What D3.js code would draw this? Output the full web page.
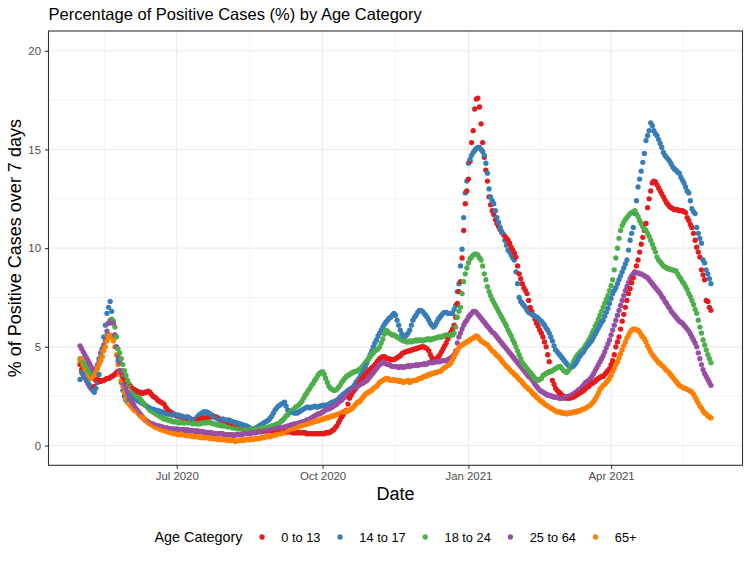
<!DOCTYPE html>
<html>
<head>
<meta charset="utf-8">
<script src="https://cdn.jsdelivr.net/npm/d3@7"></script>
<style>
  body { margin: 0; background: #fff; }
  text { font-family: "Liberation Sans", Arial, Helvetica, sans-serif; }
</style>
</head>
<body>
<div id="chart"></div>
<script>
// daily values, first day 2020-05-01
var startDate = "2020-05-01";
var categories = ["0 to 13", "14 to 17", "18 to 24", "25 to 64", "65+"];
var colors = ["#E41A1C", "#377EB8", "#4DAF4A", "#984EA3", "#FF7F00"];

var pos0to13 = [
  4.1,3.85,3.6,3.45,3.3,3.15,3.0,2.9,2.85,3.0,
  3.3,3.35,3.3,3.25,3.3,3.3,3.35,3.4,3.4,3.45,
  3.5,3.55,3.6,3.7,3.75,3.8,3.7,3.5,3.4,3.3,
  3.2,3.1,3.0,2.9,2.85,2.8,2.75,2.7,2.7,2.65,
  2.65,2.7,2.7,2.75,2.7,2.6,2.5,2.45,2.4,2.3,
  2.25,2.2,2.15,2.1,1.95,1.85,1.75,1.7,1.65,1.6,
  1.55,1.5,1.5,1.45,1.45,1.4,1.4,1.35,1.35,1.3,
  1.3,1.3,1.3,1.35,1.35,1.35,1.35,1.4,1.4,1.4,
  1.4,1.45,1.45,1.5,1.45,1.45,1.45,1.4,1.35,1.3,
  1.3,1.25,1.2,1.2,1.15,1.1,1.05,1.0,1.0,0.95,
  0.9,0.9,0.85,0.85,0.85,0.8,0.8,0.8,0.8,0.8,
  0.8,0.8,0.8,0.8,0.8,0.8,0.75,0.75,0.75,0.75,
  0.75,0.75,0.75,0.7,0.7,0.7,0.7,0.7,0.7,0.7,
  0.7,0.7,0.7,0.7,0.65,0.65,0.65,0.65,0.65,0.65,
  0.65,0.65,0.65,0.6,0.6,0.6,0.6,0.6,0.6,0.6,
  0.6,0.6,0.6,0.6,0.6,0.65,0.65,0.65,0.7,0.75,
  0.8,0.9,1.0,1.15,1.3,1.45,1.55,1.7,1.8,2.1,
  2.4,2.55,2.7,2.8,2.9,3.05,3.2,3.3,3.4,3.5,
  3.6,3.7,3.8,3.85,3.95,4.0,4.1,4.2,4.3,4.4,
  4.45,4.5,4.5,4.45,4.4,4.4,4.35,4.35,4.35,4.4,
  4.45,4.5,4.55,4.65,4.7,4.75,4.75,4.8,4.8,4.85,
  4.85,4.9,4.9,4.95,4.95,5.0,5.0,5.0,4.95,4.9,
  4.8,4.6,4.45,4.35,4.35,4.4,4.5,4.6,4.75,4.9,
  5.05,5.2,5.4,5.55,5.75,5.9,6.1,6.5,7.2,7.8,
  8.3,9.5,10.9,12.25,12.9,13.5,14.4,15.35,15.95,17.05,
  17.55,17.6,17.15,16.3,15.35,14.6,13.95,13.4,12.6,12.2,
  11.9,11.7,11.45,11.25,11.1,10.95,10.8,10.7,10.6,10.5,
  10.4,10.25,10.05,9.9,9.75,9.55,9.1,8.7,8.45,8.2,
  8.0,7.85,7.7,7.35,7.0,6.8,6.6,6.4,6.2,6.05,
  5.85,5.7,5.5,5.25,5.0,4.6,4.25,3.75,3.3,3.1,
  2.9,2.8,2.7,2.65,2.55,2.5,2.45,2.4,2.4,2.4,
  2.45,2.45,2.5,2.55,2.6,2.65,2.7,2.75,2.8,2.9,
  2.95,3.0,3.1,3.15,3.2,3.25,3.35,3.4,3.45,3.5,
  3.5,3.6,3.7,3.8,3.9,4.1,4.3,4.6,5.0,5.25,
  5.5,5.9,6.3,6.65,7.0,7.35,7.7,7.95,8.25,8.5,
  8.8,9.1,9.4,9.8,10.2,10.55,10.9,11.25,12.05,12.5,
  12.9,13.3,13.4,13.35,13.2,13.05,12.9,12.75,12.6,12.45,
  12.3,12.2,12.1,12.05,12.0,11.95,11.95,11.95,11.9,11.9,
  11.9,11.85,11.8,11.55,11.4,11.2,11.05,10.75,10.4,10.05,
  9.8,9.55,8.9,8.65,8.4,7.35,7.3,7.0,6.85
];

var pos14to17 = [
  3.35,3.7,3.6,3.5,3.35,3.2,3.05,2.9,2.8,2.7,
  2.9,3.2,3.6,4.3,4.9,5.5,6.1,6.7,7.0,7.3,
  6.8,6.2,5.6,5.0,4.3,3.7,3.2,2.8,2.5,2.3,
  2.2,2.3,2.5,2.6,2.5,2.4,2.3,2.25,2.2,2.15,
  2.1,2.05,2.0,1.95,1.9,1.85,1.85,1.8,1.8,1.75,
  1.75,1.7,1.7,1.65,1.65,1.6,1.6,1.6,1.55,1.6,
  1.55,1.5,1.55,1.45,1.5,1.45,1.4,1.45,1.45,1.4,
  1.35,1.3,1.3,1.35,1.45,1.55,1.6,1.65,1.7,1.7,
  1.7,1.65,1.6,1.55,1.5,1.45,1.4,1.35,1.3,1.3,
  1.35,1.3,1.3,1.25,1.3,1.25,1.2,1.2,1.15,1.15,
  1.1,1.1,1.05,1.05,1.0,1.0,0.95,0.9,0.85,0.8,
  0.85,0.9,0.95,1.0,1.05,1.1,1.15,1.2,1.25,1.3,
  1.4,1.5,1.65,1.8,1.9,2.0,2.05,2.1,2.15,2.2,
  2.0,1.8,1.75,1.7,1.7,1.65,1.65,1.65,1.7,1.75,
  1.8,1.85,1.9,1.95,1.95,1.9,1.95,1.95,2.0,1.95,
  1.95,2.0,2.0,2.05,2.0,2.05,2.05,2.1,2.15,2.2,
  2.2,2.25,2.3,2.35,2.45,2.5,2.6,2.65,2.7,2.8,
  2.85,2.9,2.95,3.05,3.2,3.3,3.4,3.55,3.65,3.8,
  4.0,4.2,4.4,4.6,4.8,5.0,5.2,5.35,5.55,5.7,
  5.85,6.0,6.15,6.25,6.35,6.45,6.5,6.6,6.7,6.6,
  6.35,6.1,5.85,5.65,5.5,5.5,5.6,5.7,5.85,6.1,
  6.35,6.5,6.6,6.75,6.85,6.85,6.8,6.7,6.6,6.5,
  6.35,6.2,6.1,6.0,6.1,6.25,6.4,6.5,6.6,6.7,
  6.75,6.75,6.7,6.7,6.7,6.7,6.9,7.1,7.8,8.2,
  9.1,9.95,11.55,12.8,13.4,14.3,14.5,14.7,14.85,14.95,
  15.05,15.1,15.1,15.0,14.9,14.7,14.3,13.8,13.0,12.6,
  12.4,12.25,11.9,11.55,11.3,11.05,10.85,10.7,10.4,10.15,
  9.9,9.8,9.65,9.5,9.4,8.8,8.2,7.5,7.3,7.2,
  7.1,7.0,6.85,6.75,6.7,6.65,6.6,6.55,6.5,6.45,
  6.35,6.3,6.2,6.1,5.95,5.85,5.7,5.5,5.3,5.05,
  4.85,4.75,4.65,4.55,4.45,4.35,4.25,4.15,4.05,4.0,
  4.0,4.0,4.1,4.2,4.35,4.5,4.6,4.7,4.8,4.95,
  5.05,5.15,5.25,5.35,5.5,5.65,5.8,5.95,6.1,6.25,
  6.35,6.55,6.75,6.95,7.2,7.45,7.7,7.85,8.0,8.2,
  8.4,8.6,8.8,9.0,9.2,9.4,9.9,10.4,10.75,11.05,
  11.75,12.4,13.1,13.5,13.9,14.35,14.8,15.45,15.7,15.95,
  16.35,16.2,15.95,15.8,15.7,15.5,15.3,15.1,14.85,14.7,
  14.6,14.5,14.4,14.25,14.1,14.0,13.95,13.85,13.8,13.6,
  13.45,13.3,13.1,12.9,12.8,12.4,12.0,11.85,11.75,11.05,
  10.75,10.5,10.25,9.4,9.25,8.9,8.7,8.45,8.2
];

var pos18to24 = [
  4.4,4.3,4.2,4.1,3.95,3.8,3.7,3.6,3.5,3.6,
  3.8,4.0,4.25,4.5,4.8,5.0,5.3,5.6,6.2,6.35,
  6.4,6.3,6.0,5.5,4.9,4.7,4.4,4.1,3.8,3.55,
  3.3,3.1,2.95,2.8,2.7,2.6,2.5,2.45,2.35,2.25,
  2.15,2.05,2.0,1.9,1.8,1.75,1.7,1.65,1.6,1.55,
  1.5,1.45,1.4,1.35,1.35,1.3,1.3,1.25,1.25,1.2,
  1.2,1.2,1.15,1.15,1.2,1.15,1.15,1.2,1.15,1.15,
  1.15,1.1,1.15,1.1,1.1,1.1,1.1,1.15,1.15,1.15,
  1.15,1.2,1.15,1.15,1.1,1.1,1.05,1.05,1.05,1.0,
  1.0,1.0,1.0,0.95,0.95,0.95,0.9,0.9,0.9,0.85,
  0.85,0.85,0.85,0.8,0.8,0.8,0.8,0.8,0.8,0.85,
  0.85,0.85,0.85,0.85,0.9,0.9,0.9,0.9,0.9,0.95,
  0.95,1.0,1.0,1.05,1.1,1.1,1.15,1.25,1.3,1.4,
  1.5,1.55,1.65,1.7,1.8,1.85,1.95,2.0,2.05,2.15,
  2.25,2.4,2.55,2.65,2.8,2.9,3.05,3.15,3.3,3.4,
  3.55,3.65,3.7,3.75,3.6,3.4,3.2,3.0,2.9,2.85,
  2.8,2.8,2.85,2.95,3.05,3.2,3.3,3.4,3.5,3.55,
  3.6,3.65,3.7,3.75,3.75,3.8,3.85,3.9,4.0,4.1,
  4.2,4.3,4.4,4.5,4.6,4.7,4.8,4.85,4.9,5.0,
  5.2,5.4,5.65,5.85,5.8,5.7,5.65,5.6,5.6,5.55,
  5.5,5.45,5.4,5.35,5.3,5.3,5.25,5.25,5.3,5.25,
  5.3,5.3,5.35,5.3,5.35,5.35,5.3,5.35,5.35,5.4,
  5.4,5.35,5.4,5.4,5.45,5.45,5.5,5.5,5.5,5.55,
  5.55,5.6,5.6,5.6,5.6,5.6,5.7,6.0,6.5,6.8,
  7.0,7.7,8.3,8.7,9.0,9.25,9.45,9.55,9.65,9.7,
  9.7,9.65,9.5,9.4,9.1,8.7,8.4,8.05,7.8,7.6,
  7.4,7.25,7.1,6.95,6.8,6.65,6.5,6.35,6.2,6.05,
  5.85,5.7,5.55,5.35,5.2,5.0,4.8,4.6,4.4,4.2,
  4.1,4.0,3.9,3.8,3.7,3.6,3.5,3.4,3.35,3.3,
  3.35,3.4,3.55,3.6,3.65,3.7,3.75,3.75,3.8,3.85,
  3.9,3.95,4.0,4.0,3.9,3.8,3.75,3.7,3.8,3.9,
  4.05,4.2,4.35,4.5,4.6,4.7,4.8,4.85,4.95,5.1,
  5.2,5.35,5.5,5.7,5.85,6.05,6.2,6.4,6.6,6.8,
  7.0,7.2,7.4,7.6,7.85,8.1,8.4,8.9,9.5,10.0,
  10.5,10.9,11.15,11.3,11.45,11.55,11.65,11.75,11.8,11.85,
  11.9,11.75,11.6,11.4,11.25,11.1,11.0,10.9,10.75,10.6,
  10.4,10.2,10.0,9.8,9.55,9.4,9.3,9.2,9.1,9.05,
  9.0,8.95,8.95,8.9,8.9,8.85,8.85,8.7,8.55,8.45,
  8.3,8.2,8.05,7.9,7.7,7.55,7.35,7.15,6.9,6.7,
  6.35,6.0,5.7,5.35,5.1,4.85,4.6,4.4,4.2
];

var pos25to64 = [
  5.05,4.9,4.75,4.6,4.45,4.3,4.15,4.0,3.85,3.8,
  3.9,4.1,4.4,4.7,4.9,5.1,5.4,5.8,6.2,6.3,
  6.3,6.2,5.6,5.0,4.5,4.2,3.8,3.5,3.1,2.9,
  2.7,2.5,2.35,2.2,2.05,1.9,1.8,1.7,1.6,1.5,
  1.4,1.3,1.25,1.2,1.15,1.1,1.1,1.05,1.0,1.0,
  1.0,0.95,0.95,0.9,0.9,0.9,0.85,0.85,0.85,0.85,
  0.8,0.85,0.8,0.8,0.8,0.8,0.8,0.75,0.8,0.75,
  0.75,0.75,0.75,0.7,0.75,0.7,0.7,0.7,0.7,0.65,
  0.65,0.65,0.65,0.65,0.6,0.6,0.6,0.6,0.6,0.6,
  0.6,0.55,0.55,0.55,0.55,0.55,0.55,0.5,0.55,0.55,
  0.55,0.55,0.55,0.6,0.6,0.6,0.6,0.6,0.65,0.65,
  0.65,0.65,0.7,0.7,0.7,0.7,0.75,0.75,0.75,0.8,
  0.8,0.8,0.85,0.85,0.85,0.9,0.9,0.9,0.9,0.95,
  0.95,1.0,1.0,1.05,1.05,1.1,1.1,1.1,1.15,1.15,
  1.2,1.2,1.25,1.3,1.3,1.35,1.4,1.45,1.5,1.55,
  1.6,1.6,1.65,1.7,1.75,1.8,1.85,1.85,1.9,1.95,
  2.0,2.05,2.1,2.2,2.25,2.3,2.4,2.45,2.55,2.6,
  2.7,2.75,2.8,2.9,2.95,3.0,3.05,3.1,3.15,3.2,
  3.25,3.3,3.4,3.5,3.6,3.7,3.8,3.9,4.0,4.1,
  4.15,4.2,4.2,4.15,4.1,4.1,4.05,4.0,4.0,4.0,
  4.0,3.95,4.0,4.0,3.95,4.0,4.0,4.05,4.0,4.05,
  4.05,4.05,4.1,4.05,4.1,4.1,4.1,4.15,4.1,4.15,
  4.2,4.2,4.2,4.2,4.25,4.25,4.25,4.25,4.3,4.3,
  4.3,4.3,4.35,4.4,4.45,4.5,4.6,4.8,5.2,5.5,
  5.7,5.9,6.1,6.25,6.35,6.5,6.6,6.7,6.8,6.8,
  6.75,6.65,6.55,6.45,6.35,6.25,6.15,6.05,5.95,5.85,
  5.75,5.7,5.6,5.5,5.4,5.3,5.2,5.1,5.0,4.9,
  4.8,4.7,4.6,4.5,4.4,4.3,4.2,4.1,4.0,3.9,
  3.8,3.7,3.6,3.5,3.45,3.35,3.25,3.1,3.0,2.9,
  2.8,2.75,2.7,2.65,2.6,2.55,2.55,2.5,2.5,2.45,
  2.45,2.45,2.4,2.4,2.4,2.4,2.45,2.45,2.5,2.5,
  2.55,2.6,2.65,2.7,2.8,2.85,2.9,3.0,3.1,3.2,
  3.25,3.3,3.4,3.5,3.65,3.8,3.95,4.1,4.25,4.4,
  4.55,4.75,4.95,5.15,5.35,5.6,5.85,6.1,6.35,6.6,
  6.85,7.1,7.35,7.6,7.85,8.05,8.25,8.45,8.6,8.7,
  8.75,8.75,8.75,8.7,8.7,8.65,8.6,8.55,8.5,8.4,
  8.3,8.2,8.1,8.0,7.9,7.8,7.7,7.55,7.45,7.3,
  7.2,7.05,6.95,6.8,6.7,6.6,6.5,6.4,6.3,6.25,
  6.2,6.1,6.0,5.9,5.8,5.65,5.5,5.35,5.2,5.0,
  4.7,4.4,4.1,3.85,3.65,3.5,3.35,3.2,3.05
];

var pos65plus = [
  4.3,4.4,4.1,3.9,3.8,3.6,3.5,3.4,3.4,3.5,
  3.7,3.9,4.1,4.3,4.5,4.8,5.0,5.3,5.5,5.6,
  5.5,5.3,5.0,4.6,4.1,3.6,3.3,3.0,2.7,2.4,
  2.2,2.1,2.0,1.9,1.8,1.75,1.7,1.6,1.5,1.45,
  1.4,1.3,1.25,1.15,1.1,1.05,1.0,0.95,0.9,0.9,
  0.85,0.8,0.8,0.75,0.75,0.7,0.7,0.65,0.65,0.6,
  0.6,0.6,0.55,0.55,0.6,0.55,0.55,0.5,0.5,0.5,
  0.5,0.45,0.5,0.45,0.45,0.45,0.4,0.45,0.4,0.4,
  0.4,0.4,0.35,0.4,0.35,0.35,0.35,0.3,0.35,0.3,
  0.3,0.3,0.3,0.25,0.3,0.25,0.25,0.25,0.2,0.25,
  0.25,0.25,0.3,0.25,0.3,0.3,0.3,0.3,0.35,0.3,
  0.35,0.35,0.35,0.35,0.4,0.4,0.4,0.45,0.45,0.45,
  0.45,0.5,0.5,0.55,0.55,0.6,0.6,0.6,0.65,0.65,
  0.65,0.7,0.75,0.75,0.8,0.85,0.85,0.9,0.95,1.0,
  1.0,1.05,1.05,1.1,1.1,1.15,1.15,1.2,1.2,1.25,
  1.25,1.3,1.3,1.35,1.35,1.4,1.4,1.45,1.45,1.5,
  1.5,1.55,1.55,1.6,1.6,1.65,1.7,1.7,1.75,1.75,
  1.8,1.85,1.9,2.0,2.1,2.2,2.2,2.3,2.4,2.5,
  2.6,2.65,2.7,2.75,2.8,2.9,2.95,3.0,3.1,3.2,
  3.25,3.3,3.35,3.4,3.4,3.35,3.3,3.3,3.35,3.3,
  3.3,3.25,3.3,3.25,3.2,3.25,3.25,3.3,3.2,3.25,
  3.3,3.3,3.3,3.35,3.4,3.4,3.45,3.5,3.5,3.55,
  3.6,3.6,3.65,3.65,3.7,3.7,3.75,3.75,3.8,3.9,
  3.95,4.0,4.05,4.1,4.2,4.35,4.5,4.65,4.8,4.95,
  5.05,5.1,5.15,5.2,5.25,5.3,5.35,5.4,5.45,5.5,
  5.55,5.5,5.4,5.3,5.25,5.2,5.15,5.1,5.0,4.9,
  4.8,4.75,4.65,4.55,4.5,4.4,4.3,4.2,4.1,4.0,
  3.95,3.85,3.75,3.7,3.6,3.55,3.45,3.35,3.3,3.2,
  3.1,3.0,2.95,2.85,2.8,2.7,2.6,2.55,2.45,2.4,
  2.3,2.25,2.2,2.1,2.05,2.0,1.95,1.9,1.85,1.8,
  1.75,1.7,1.7,1.7,1.65,1.65,1.65,1.6,1.65,1.65,
  1.65,1.7,1.7,1.7,1.75,1.75,1.8,1.85,1.85,1.9,
  1.95,2.0,2.05,2.15,2.25,2.35,2.5,2.65,2.85,2.95,
  3.05,3.1,3.2,3.3,3.4,3.55,3.75,3.9,4.1,4.25,
  4.45,4.65,4.85,5.05,5.25,5.45,5.6,5.75,5.85,5.9,
  5.9,5.85,5.85,5.75,5.6,5.5,5.4,5.25,5.05,4.9,
  4.75,4.6,4.5,4.4,4.3,4.2,4.15,4.05,4.0,3.9,
  3.8,3.75,3.65,3.55,3.45,3.35,3.25,3.15,3.05,3.0,
  2.95,2.9,2.9,2.85,2.8,2.75,2.7,2.6,2.45,2.3,
  2.15,2.0,1.9,1.75,1.65,1.6,1.5,1.45,1.4
];

var seriesValues = [pos0to13, pos14to17, pos18to24, pos25to64, pos65plus];

var yLimits = [0, 20];
var yTicks = [0, 5, 10, 15, 20];
var xBreakDates = ["2020-04-01", "2020-07-01", "2020-10-01", "2021-01-01", "2021-04-01", "2021-07-01"];
var xTickDates = ["2020-07-01", "2020-10-01", "2021-01-01", "2021-04-01"];
var xTickLabels = ["Jul 2020", "Oct 2020", "Jan 2021", "Apr 2021"];

var W = 750, H = 563;
var panel = {left: 48.5, right: 742.5, top: 31, bottom: 465.3};
var parse = d3.utcParse("%Y-%m-%d");

var svg = d3.select("#chart").append("svg")
  .attr("width", W).attr("height", H)
  .style("display", "block");
svg.append("rect").attr("width", W).attr("height", H).attr("fill", "#fff");

// build long table: date then category order
var start = parse(startDate);
var nDays = d3.max(seriesValues, function(s) { return s.length; });
var points = [];
for (var i = 0; i < nDays; i++) {
  var day = d3.utcDay.offset(start, i);
  for (var k = 0; k < seriesValues.length; k++) {
    if (seriesValues[k][i] != null) points.push({date: day, value: seriesValues[k][i], cat: k});
  }
}
var end = d3.utcDay.offset(start, nDays - 1);
var span = end - start;

var x = d3.scaleUtc()
  .domain([new Date(+start - 0.05 * span), new Date(+end + 0.05 * span)])
  .range([panel.left, panel.right]);
var yr = yLimits[1] - yLimits[0];
var y = d3.scaleLinear()
  .domain([yLimits[0] - 0.05 * yr, yLimits[1] + 0.05 * yr])
  .range([panel.bottom, panel.top]);

// grid
var grid = svg.append("g");
var minorX = [];
for (var j = 0; j < xBreakDates.length - 1; j++) {
  var a = parse(xBreakDates[j]), b = parse(xBreakDates[j + 1]);
  minorX.push(new Date((+a + +b) / 2));
}
var minorY = [];
for (var j = 0; j < yTicks.length - 1; j++) minorY.push((yTicks[j] + yTicks[j + 1]) / 2);

grid.selectAll(".mx").data(minorX.filter(function(d) { return d >= x.domain()[0] && d <= x.domain()[1]; }))
  .enter().append("line")
  .attr("x1", function(d) { return x(d); }).attr("x2", function(d) { return x(d); })
  .attr("y1", panel.top).attr("y2", panel.bottom)
  .attr("stroke", "#EBEBEB").attr("stroke-width", 0.6);
grid.selectAll(".my").data(minorY)
  .enter().append("line")
  .attr("y1", function(d) { return y(d); }).attr("y2", function(d) { return y(d); })
  .attr("x1", panel.left).attr("x2", panel.right)
  .attr("stroke", "#EBEBEB").attr("stroke-width", 0.6);
grid.selectAll(".gx").data(xTickDates)
  .enter().append("line")
  .attr("x1", function(d) { return x(parse(d)); }).attr("x2", function(d) { return x(parse(d)); })
  .attr("y1", panel.top).attr("y2", panel.bottom)
  .attr("stroke", "#EBEBEB").attr("stroke-width", 1.1);
grid.selectAll(".gy").data(yTicks)
  .enter().append("line")
  .attr("y1", function(d) { return y(d); }).attr("y2", function(d) { return y(d); })
  .attr("x1", panel.left).attr("x2", panel.right)
  .attr("stroke", "#EBEBEB").attr("stroke-width", 1.1);

// points
svg.append("g").selectAll("circle")
  .data(points)
  .enter().append("circle")
  .attr("cx", function(d) { return x(d.date); })
  .attr("cy", function(d) { return y(d.value); })
  .attr("r", 2.65)
  .attr("fill", function(d) { return colors[d.cat]; });

// panel border
svg.append("rect")
  .attr("x", panel.left).attr("y", panel.top)
  .attr("width", panel.right - panel.left).attr("height", panel.bottom - panel.top)
  .attr("fill", "none").attr("stroke", "#333333").attr("stroke-width", 1.1);

// axes
var xAxis = d3.axisBottom(x)
  .tickValues(xTickDates.map(parse))
  .tickFormat(function(d, i) { return xTickLabels[i]; })
  .tickSize(3.5).tickPadding(3.5);
var gx = svg.append("g").attr("transform", "translate(0," + panel.bottom + ")").call(xAxis);
var yAxis = d3.axisLeft(y).tickValues(yTicks).tickSize(3.5).tickPadding(4);
var gy = svg.append("g").attr("transform", "translate(" + panel.left + ",0)").call(yAxis);
[gx, gy].forEach(function(g) {
  g.select(".domain").remove();
  g.selectAll(".tick line").attr("stroke", "#333333").attr("stroke-width", 1.1);
  g.selectAll(".tick text").attr("fill", "#4D4D4D").style("font-size", "11.4px")
    .style("font-family", "'Liberation Sans', Arial, sans-serif");
});

// titles
svg.append("text")
  .attr("x", panel.left).attr("y", 20)
  .style("font-size", "16.5px").attr("fill", "#000")
  .text("Percentage of Positive Cases (%) by Age Category");
svg.append("text")
  .attr("x", (panel.left + panel.right) / 2).attr("y", 500)
  .attr("text-anchor", "middle")
  .style("font-size", "18px").attr("fill", "#000")
  .text("Date");
svg.append("text")
  .attr("transform", "translate(21," + ((panel.top + panel.bottom) / 2) + ") rotate(-90)")
  .attr("text-anchor", "middle")
  .style("font-size", "18px").attr("fill", "#000")
  .text("% of Positive Cases over 7 days");

// legend
var legend = svg.append("g");
var legY = 537;
var lt = legend.append("text").attr("y", legY + 5).style("font-size", "14.4px").attr("fill", "#000").text("Age Category");
var cursor = lt.node().getComputedTextLength();
categories.forEach(function(c, k) {
  var cx = cursor + 19.6;
  legend.append("circle").attr("cx", cx).attr("cy", legY).attr("r", 2.65).attr("fill", colors[k]);
  var t = legend.append("text").attr("x", cx + 19.3).attr("y", legY + 4.5)
    .style("font-size", "12.8px").attr("fill", "#000").text(c);
  cursor = cx + 19.3 + t.node().getComputedTextLength();
});
legend.attr("transform", "translate(" + ((panel.left + panel.right) / 2 - cursor / 2) + ",0)");
</script>
</body>
</html>
